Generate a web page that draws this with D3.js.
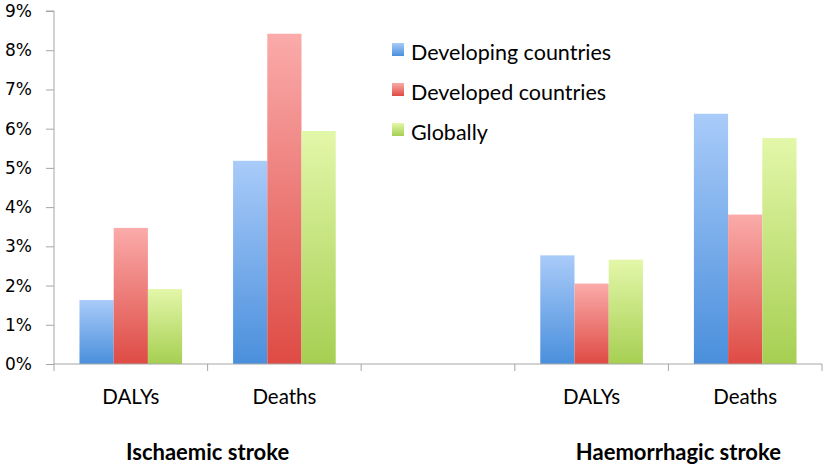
<!DOCTYPE html>
<html>
<head>
<meta charset="utf-8">
<script src="https://cdn.jsdelivr.net/npm/d3@7"></script>
<style>
  body { margin: 0; background: #fff; }
  svg { font-family: Lato, "Open Sans", sans-serif; }
</style>
</head>
<body>
<svg width="827" height="467"></svg>
<script>
let width = 827, height = 467;

// data
let categories = ["isch_dalys", "isch_deaths", "gap", "haem_dalys", "haem_deaths"];
let catLabels = ["DALYs", "Deaths", "", "DALYs", "Deaths"];
let series = ["Developing countries", "Developed countries", "Globally"];
let developing = [1.63, 5.18, null, 2.77, 6.38];
let developed = [3.47, 8.42, null, 2.05, 3.81];
let globally = [1.91, 5.94, null, 2.66, 5.76];
let yTicks = [0, 1, 2, 3, 4, 5, 6, 7, 8, 9];
let groupLabels = ["Ischaemic stroke", "Haemorrhagic stroke"];

let values = [developing, developed, globally];

let svg = d3.select("svg");

let x0 = d3.scaleBand().domain(categories).range([54, 822]).paddingInner(0).paddingOuter(0);
let x1 = d3.scaleBand().domain(series).range([0, x0.bandwidth()]).paddingInner(0).paddingOuter(0.745);
let y = d3.scaleLinear().domain([0, 9]).range([364, 11]);

// gradients, light at top dark at bottom like the excel bars
let grads = [["#a9cbf9", "#4a8fdc"], ["#faabaa", "#de4b44"], ["#e3f7a9", "#a6cf52"]];
let defs = svg.append("defs");
grads.forEach((g, i) => {
  let lg = defs.append("linearGradient").attr("id", "g" + i)
    .attr("x1", 0).attr("y1", 0).attr("x2", 0).attr("y2", 1);
  lg.append("stop").attr("offset", "0%").attr("stop-color", g[0]);
  lg.append("stop").attr("offset", "100%").attr("stop-color", g[1]);
});

// y axis
let yAxis = d3.axisLeft(y).tickValues(yTicks).tickSize(8).tickFormat(d => d + "%");
let ya = svg.append("g").attr("transform", "translate(54,0)").call(yAxis);
ya.select(".domain").attr("stroke", "#a6a6a6").attr("d", "M-8," + y(9) + "H0V" + y(0));
ya.selectAll(".tick line").attr("stroke", "#a6a6a6");
ya.selectAll(".tick text").attr("font-size", "17px").attr("fill", "#000")
  .attr("font-family", "'DejaVu Sans', sans-serif").attr("x", -22);

// bars
let bars = svg.append("g");
series.forEach((s, i) => {
  bars.selectAll(".b" + i)
    .data(categories.map((c, j) => ({c: c, v: values[i][j]})).filter(d => d.v != null))
    .enter().append("rect")
    .attr("x", d => x0(d.c) + x1(s))
    .attr("width", x1.bandwidth())
    .attr("y", d => y(d.v))
    .attr("height", d => y(0) - y(d.v))
    .attr("fill", "url(#g" + i + ")");
});

// x axis
let xa = svg.append("g");
xa.append("line").attr("x1", 54).attr("x2", 822).attr("y1", y(0)).attr("y2", y(0)).attr("stroke", "#a6a6a6");
xa.selectAll(".xt").data(categories.concat(["end"])).enter().append("line")
  .attr("x1", (d, i) => 54 + i * x0.bandwidth())
  .attr("x2", (d, i) => 54 + i * x0.bandwidth())
  .attr("y1", y(0)).attr("y2", y(0) + 7).attr("stroke", "#a6a6a6");
xa.selectAll(".xl").data(categories).enter().append("text")
  .attr("x", d => x0(d) + x0.bandwidth() / 2)
  .attr("y", 404)
  .attr("text-anchor", "middle")
  .attr("font-size", "20.5px")
  .text((d, i) => catLabels[i]);

// group labels under the pairs
let groupX = [(x0("isch_dalys") + x0("isch_deaths") + x0.bandwidth()) / 2,
              (x0("haem_dalys") + x0("haem_deaths") + x0.bandwidth()) / 2 + 10];
svg.selectAll(".gl").data(groupLabels).enter().append("text")
  .attr("x", (d, i) => groupX[i])
  .attr("y", 460)
  .attr("text-anchor", "middle")
  .attr("font-size", "22px")
  .attr("font-weight", "bold")
  .text(d => d);

// legend
let legend = svg.append("g").attr("transform", "translate(392,43)");
series.forEach((s, i) => {
  let row = legend.append("g").attr("transform", "translate(0," + (i * 40) + ")");
  row.append("rect").attr("width", 12).attr("height", 13).attr("fill", "url(#g" + i + ")");
  row.append("text").attr("x", 19).attr("y", 17).attr("font-size", "21.5px").text(s);
});
</script>
</body>
</html>
